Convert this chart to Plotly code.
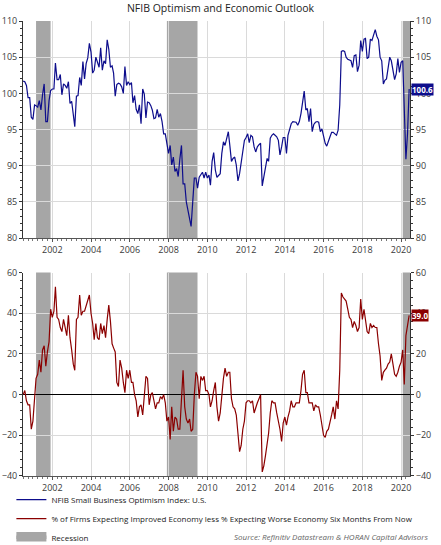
import plotly.graph_objects as go
import pandas as pd

# monthly data, Jul 2000 - Jun 2020
months = pd.date_range("2000-07-01", periods=240, freq="MS")

nfib_index = [
    101.7, 101.6, 101.1, 99.4, 99.4, 96.7, 96.4, 98.4, 98.3, 98.1, 99.0, 97.7,
    99.8, 101.3, 96.1, 96.1, 99.0, 100.4, 100.6, 100.6, 104.2, 101.9, 101.9, 102.6,
    99.8, 101.3, 101.1, 100.7, 101.6, 98.6, 98.9, 96.5, 95.4, 99.6, 99.7, 102.2,
    101.1, 104.4, 102.0, 104.1, 104.9, 106.9, 105.7, 102.8, 103.2, 105.0, 104.3, 103.6,
    106.3, 103.2, 104.5, 104.1, 107.4, 106.1, 103.6, 103.8, 102.8, 99.6, 101.2, 101.4,
    101.3, 100.9, 100.0, 103.7, 101.1, 101.6, 101.2, 101.5, 98.7, 99.7, 97.8, 97.2,
    98.4, 95.8, 100.6, 99.9, 96.6, 98.8, 98.7, 98.3, 97.7, 96.5, 96.6, 97.8,
    96.7, 97.2, 96.1, 94.4, 94.4, 93.1, 91.7, 92.8, 90.1, 91.2, 89.2, 89.6,
    88.5, 90.9, 92.8, 87.5, 87.5, 85.0, 83.9, 82.8, 81.6, 85.0, 88.3, 88.3,
    86.9, 88.4, 88.8, 89.1, 88.3, 89.1, 88.3, 88.7, 87.3, 90.6, 91.8, 89.4,
    88.4, 88.6, 88.9, 91.7, 93.3, 92.8, 93.8, 94.7, 92.8, 90.6, 91.0, 91.2,
    90.1, 87.9, 88.9, 90.6, 91.9, 93.5, 93.9, 94.4, 93.2, 94.2, 94.0, 92.6,
    91.9, 92.6, 92.9, 93.1, 87.2, 88.5, 89.6, 91.0, 90.6, 93.8, 94.2, 94.4,
    94.2, 94.0, 93.5, 91.5, 92.6, 93.9, 93.9, 91.7, 94.2, 94.9, 95.8, 96.1,
    96.0, 96.0, 95.6, 96.1, 97.2, 99.0, 100.3, 97.7, 97.9, 96.1, 97.9, 94.7,
    95.7, 96.0, 96.1, 96.0, 94.7, 95.1, 94.0, 93.1, 92.7, 93.5, 94.0, 94.6,
    94.6, 94.4, 94.2, 94.9, 98.4, 105.8, 105.9, 105.8, 105.0, 104.7, 104.6, 104.5,
    103.6, 105.2, 105.3, 103.0, 103.9, 107.3, 105.8, 107.5, 107.6, 104.8, 105.0, 107.5,
    107.3, 108.1, 108.8, 107.9, 107.4, 105.0, 104.5, 101.3, 101.8, 102.0, 103.9, 105.0,
    104.5, 103.4, 101.9, 102.7, 104.8, 102.9, 104.3, 104.5, 96.4, 90.9, 94.4, 100.6,
]

econ_outlook = [
    0, 2, -3, -5, -5, -17, -13, -1, 8, 10, 17, 11,
    22, 24, 14, 21, 26, 42, 38, 41, 53, 38, 37, 33,
    31, 37, 33, 29, 39, 28, 22, 15, 12, 37, 38, 49,
    39, 41, 41, 44, 47, 49, 40, 35, 27, 35, 28, 27,
    35, 30, 34, 28, 37, 44, 36, 25, 23, 21, 6, 4,
    17, 13, 6, 1, 12, 8, 12, 6, 6, 0, -3, -11,
    -6, -5, -10, 0, 9, 8, -5, 0, 1, -3, -7, -4,
    -4, -1, -2, 0, -4, -13, -11, -22, -6, -18, -11, -12,
    -17, -17, 0, 12, -6, -12, -14, -12, -18, -17, 0, 11,
    9, -2, 9, 7, 9, 2, 2, 0, -6, -3, 2, 6,
    -6, -13, -9, 0, 8, 13, 9, 11, 11, -2, -6, -7,
    -10, -19, -28, -25, -17, -13, -4, -3, -3, -4, -3, -9,
    -6, -4, -2, 0, -38, -35, -30, -25, -19, -9, -3, -4,
    -4, -9, -13, -17, -23, -14, -11, -15, -11, -8, -3, -6,
    -6, -4, -4, -4, 2, 10, 12, 1, 1, -4, -4, -4,
    -8, -5, -6, -6, -10, -14, -20, -21, -18, -17, -14, -10,
    -6, -12, -3, -7, 12, 50, 48, 47, 46, 42, 38, 37,
    33, 36, 34, 31, 33, 47, 37, 42, 36, 31, 30, 35,
    33, 34, 33, 33, 25, 19, 7, 11, 12, 13, 15, 16,
    20, 15, 10, 9, 11, 14, 16, 22, 5, 29, 34, 39,
]

recessions = [("2001-03-01", "2001-11-30"),
              ("2007-12-01", "2009-06-30"),
              ("2020-02-01", "2020-06-17")]

name_nfib = "NFIB Small Business Optimism Index: U.S."
name_outlook = "% of Firms Expecting Improved Economy less % Expecting Worse Economy Six Months From Now"

BLUE = "#0d0d8c"
RED = "#8b0000"
GRAY = "#a6a6a6"
GRID = "#dadada"
FONT = "Open Sans"
TXT = "#3a3a3a"

fig = go.Figure()
fig.add_trace(go.Scatter(x=months, y=nfib_index, name=name_nfib, mode="lines",
                         line=dict(color=BLUE, width=1.2), xaxis="x", yaxis="y"))
fig.add_trace(go.Scatter(x=months, y=econ_outlook, name=name_outlook, mode="lines",
                         line=dict(color=RED, width=1.2), xaxis="x2", yaxis="y2"))
fig.add_trace(go.Scatter(x=[None], y=[None], name="Recession", mode="lines",
                         fill="toself", fillcolor=GRAY, line=dict(color=GRAY, width=7),
                         xaxis="x2", yaxis="y2"))
# empty traces so the right-hand axes get drawn
fig.add_trace(go.Scatter(x=[months[0]], y=[None], showlegend=False, xaxis="x", yaxis="y3"))
fig.add_trace(go.Scatter(x=[months[0]], y=[None], showlegend=False, xaxis="x2", yaxis="y4"))

for x0, x1 in recessions:
    for xr, yr in [("x", "y domain"), ("x2", "y2 domain")]:
        fig.add_shape(type="rect", xref=xr, yref=yr, x0=x0, x1=x1, y0=0, y1=1,
                      fillcolor=GRAY, line_width=0, layer="below")

xrange = ["2000-06-28", "2020-06-17"]
xcommon = dict(type="date", range=xrange, tick0="2002-01-01", dtick="M24",
               tickformat="%Y", showgrid=True, gridcolor=GRID, gridwidth=1.2,
               ticks="outside", ticklen=3, tickcolor="#555", showline=True,
               linecolor="#555", linewidth=1, zeroline=False,
               tickfont=dict(size=9, color=TXT, family=FONT),
               minor=dict(dtick="M3", tick0="2000-01-01", ticks="outside",
                          ticklen=2, tickcolor="#777", showgrid=False))
ycommon = dict(showgrid=True, gridcolor=GRID, gridwidth=1.2, ticks="outside",
               ticklen=3, tickcolor="#333", showline=True, linecolor="#333",
               linewidth=1, zeroline=False,
               tickfont=dict(size=9, color=TXT, family=FONT))

top_dom = [0.523, 1.0]
bot_dom = [0.0, 0.447]

fig.update_layout(
    width=441, height=545,
    margin=dict(l=23, r=31, t=21, b=69, autoexpand=False),
    paper_bgcolor="white", plot_bgcolor="white",
    font=dict(family=FONT, color=TXT, size=9),
    title=dict(text="NFIB Optimism and Economic Outlook", x=0.5, xanchor="center",
               y=0.985, yanchor="middle", font=dict(size=10.5, color="#222", family=FONT)),
    xaxis=dict(xcommon, domain=[0, 1], anchor="y"),
    xaxis2=dict(xcommon, domain=[0, 1], anchor="y2"),
    yaxis=dict(ycommon, domain=top_dom, range=[80, 110], dtick=5, anchor="x",
               minor=dict(dtick=1, ticks="outside", ticklen=2, tickcolor="#333", showgrid=False)),
    yaxis3=dict(ycommon, range=[80, 110], dtick=5, overlaying="y", side="right",
                anchor="x", showgrid=False,
                minor=dict(dtick=1, ticks="outside", ticklen=2, tickcolor="#333", showgrid=False)),
    yaxis2=dict(ycommon, domain=bot_dom, range=[-40, 60], dtick=20, anchor="x2",
                zeroline=True, zerolinecolor="black", zerolinewidth=1.2,
                minor=dict(dtick=4, ticks="outside", ticklen=2, tickcolor="#333", showgrid=False)),
    yaxis4=dict(ycommon, range=[-40, 60], dtick=20, overlaying="y2", side="right",
                anchor="x2", showgrid=False,
                minor=dict(dtick=4, ticks="outside", ticklen=2, tickcolor="#333", showgrid=False)),
    showlegend=True,
    legend=dict(orientation="v", x=-0.03, xanchor="left", y=-0.02, yanchor="top",
                font=dict(size=8, color="#222", family=FONT), tracegroupgap=0,
                bgcolor="rgba(0,0,0,0)", itemwidth=30),
)

# end-value labels
fig.add_annotation(xref="x domain", yref="y", x=1, y=nfib_index[-1], xanchor="left",
                   xshift=1, text="<b>%.1f</b>" % nfib_index[-1], showarrow=False,
                   bgcolor=BLUE, font=dict(color="white", size=8, family=FONT),
                   borderpad=0)
fig.add_annotation(xref="x2 domain", yref="y2", x=1, y=econ_outlook[-1], xanchor="left",
                   xshift=1, text="<b>%.1f</b>" % econ_outlook[-1], showarrow=False,
                   bgcolor=RED, font=dict(color="white", size=8, family=FONT),
                   borderpad=0)

fig.add_annotation(xref="paper", yref="paper", x=1.052, y=-0.134, xanchor="right",
                   yanchor="middle", showarrow=False,
                   text="<i>Source: Refinitiv Datastream & HORAN Capital Advisors</i>",
                   font=dict(size=8, color="#666", family=FONT))

# the page's default 8px body margin would push the chart off the window
fig.write_html("out.html", config={"displayModeBar": False},
               post_script="document.body.style.margin='0';")
